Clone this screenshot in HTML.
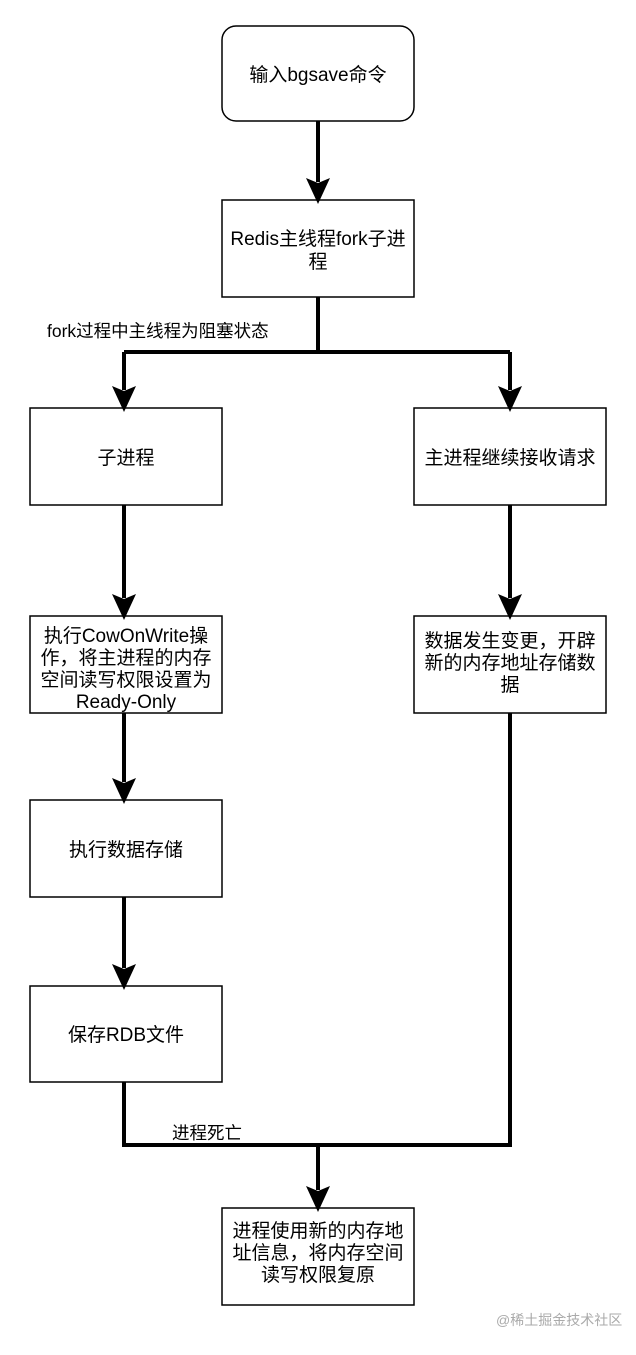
<!DOCTYPE html>
<html><head><meta charset="utf-8"><style>
body{margin:0;background:#fff;}
svg text{font-family:"Liberation Sans","Noto Sans CJK SC",sans-serif;font-size:19px;fill:#000;}
</style></head><body>
<svg width="636" height="1350" xmlns="http://www.w3.org/2000/svg">
<g fill="#fff" stroke="#000" stroke-width="1.5">
<rect x="222" y="26" width="192" height="95" rx="14"/>
<rect x="222" y="200" width="192" height="97"/>
<rect x="30" y="408" width="192" height="97"/>
<rect x="414" y="408" width="192" height="97"/>
<rect x="30" y="616" width="192" height="97"/>
<rect x="414" y="616" width="192" height="97"/>
<rect x="30" y="800" width="192" height="97"/>
<rect x="30" y="986" width="192" height="96"/>
<rect x="222" y="1208" width="192" height="97"/>
</g>
<g stroke="#000" stroke-width="4" fill="none">
<path d="M318 121V182"/>
<path d="M318 297V352M124 352H510M124 352V390M510 352V390"/>
<path d="M124 505V598M510 505V598"/>
<path d="M124 713V782M124 897V968"/>
<path d="M124 1082V1145H510V713M318 1145V1190"/>
</g>
<g fill="#000">
<path d="M306 178L318 183L330 178L318 204Z"/>
<path d="M112 386L124 391L136 386L124 412Z"/>
<path d="M498 386L510 391L522 386L510 412Z"/>
<path d="M112 594L124 599L136 594L124 620Z"/>
<path d="M498 594L510 599L522 594L510 620Z"/>
<path d="M112 778L124 783L136 778L124 804Z"/>
<path d="M112 964L124 969L136 964L124 990Z"/>
<path d="M306 1186L318 1191L330 1186L318 1212Z"/>
</g>
<g text-anchor="middle">
<text x="318" y="81">输入bgsave命令</text>
<text x="318" y="245">Redis主线程fork子进</text>
<text x="318" y="268">程</text>
<text x="126" y="464">子进程</text>
<text x="510" y="464">主进程继续接收请求</text>
<text x="126" y="642">执行CowOnWrite操</text>
<text x="126" y="664">作，将主进程的内存</text>
<text x="126" y="686">空间读写权限设置为</text>
<text x="126" y="708">Ready-Only</text>
<text x="510" y="647">数据发生变更，开辟</text>
<text x="510" y="669">新的内存地址存储数</text>
<text x="510" y="691">据</text>
<text x="126" y="856">执行数据存储</text>
<text x="126" y="1041">保存RDB文件</text>
<text x="318" y="1237">进程使用新的内存地</text>
<text x="318" y="1259">址信息，将内存空间</text>
<text x="318" y="1281">读写权限复原</text>
</g>
<text x="47" y="337" style="font-size:17.5px">fork过程中主线程为阻塞状态</text>
<text x="172" y="1139" style="font-size:17.5px">进程死亡</text>
<text x="496" y="1325" style="font-size:14px;fill:#aaa">@稀土掘金技术社区</text>
</svg>
</body></html>
